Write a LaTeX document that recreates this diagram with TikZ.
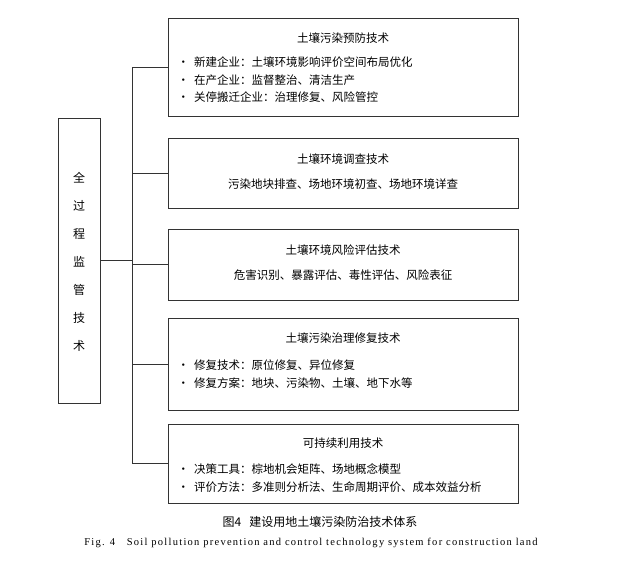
\documentclass[tikz,border=0pt]{standalone}
\usepackage{fontspec}
\setmainfont{Liberation Serif}
\newfontfamily\cjk{Noto Sans CJK SC}
\begin{document}
\begin{tikzpicture}[x=1pt,y=-1pt,
 box/.style={draw=black!80,line width=0.8pt},
 ln/.style={draw=black!80,line width=0.8pt},
 tt/.style={font=\cjk\fontsize{11.5}{14}\selectfont,anchor=center},
 it/.style={font=\cjk\fontsize{11.5}{17.5}\selectfont,anchor=west,align=left}]
\useasboundingbox (0,0) rectangle (640,563);
\draw[box] (58,118) rectangle (100,403);
\node[font=\cjk\fontsize{12}{28}\selectfont,align=center] (L) at (79,262) {全\\过\\程\\监\\管\\技\\术};
\draw[box] (168,18) rectangle (518,116);
\draw[box] (168,138) rectangle (518,208);
\draw[box] (168,229) rectangle (518,300);
\draw[box] (168,318) rectangle (518,410);
\draw[box] (168,424) rectangle (518,503);
\coordinate (j) at (132,260);
\draw[ln] (100,260) -- (j);
\draw[ln] (132,67) -- (132,463);
\foreach \y in {67,173,264,364,463} \draw[ln] (132,\y) -- (168,\y);
\node[tt] (t1) at (343,38) {土壤污染预防技术};
\node[it] (i1) at (174,80) {•\ \ 新建企业：土壤环境影响评价空间布局优化\\•\ \ 在产企业：监督整治、清洁生产\\•\ \ 关停搬迁企业：治理修复、风险管控};
\node[tt] (t2) at (343,159) {土壤环境调查技术};
\node[tt] (s2) at (343,184) {污染地块排查、场地环境初查、场地环境详查};
\node[tt] (t3) at (343,250) {土壤环境风险评估技术};
\node[tt] (s3) at (343,275) {危害识别、暴露评估、毒性评估、风险表征};
\node[tt] (t4) at (343,338) {土壤污染治理修复技术};
\node[it] (i4) at (174,374) {•\ \ 修复技术：原位修复、异位修复\\•\ \ 修复方案：地块、污染物、土壤、地下水等};
\node[tt] (t5) at (343,443) {可持续利用技术};
\node[it] (i5) at (174,478) {•\ \ 决策工具：棕地机会矩阵、场地概念模型\\•\ \ 评价方法：多准则分析法、生命周期评价、成本效益分析};
\node[font=\cjk\fontsize{12}{14}\selectfont] (c1) at (320,522) {图4\ \ \ 建设用地土壤污染防治技术体系};
\node[font=\fontsize{10.5}{12}\selectfont\addfontfeature{LetterSpace=12}] (c2) at (311,543) {Fig. 4\ \ \ Soil pollution prevention and control technology system for construction land};
\end{tikzpicture}
\end{document}
